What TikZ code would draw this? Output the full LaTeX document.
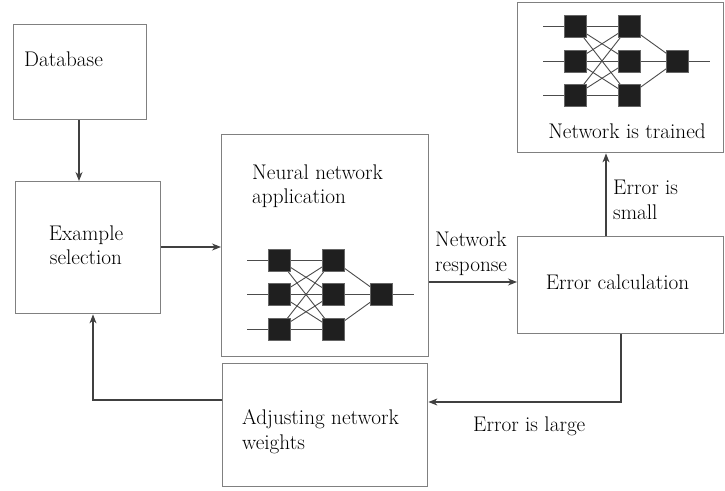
\documentclass[tikz,border=0pt]{standalone}
\usetikzlibrary{arrows.meta}
\begin{document}
\begin{tikzpicture}[x=1pt,y=-1pt,
  box/.style={draw=black!50,line width=1.4pt,fill=white},
  lbl/.style={font=\fontsize{21.2}{24.5}\selectfont,inner sep=0pt,align=left},
  conn/.style={draw=black!75,line width=1.1pt,-{Stealth[length=9pt,width=7pt]}},
  link/.style={draw=black!70,line width=0.9pt},
  neuron/.style={fill=black!88,draw=black!60,line width=0.4pt},
  nnet/.pic={
    \foreach \r in {0,1,2}{
      \draw[link] (-32,{\r*34.5}) -- (0,{\r*34.5});
      \foreach \s in {0,1,2}{\draw[link] (0,{\r*34.5}) -- (54,{\s*34.5});}
      \draw[link] (54,{\r*34.5}) -- (102,34.5);
    }
    \draw[link] (102,34.5) -- (135,34.5);
    \foreach \r in {0,1,2}{
      \fill[neuron] (-11,{\r*34.5-11}) rectangle (11,{\r*34.5+11});
      \fill[neuron] (43,{\r*34.5-11}) rectangle (65,{\r*34.5+11});
    }
    \fill[neuron] (91,23.5) rectangle (113,45.5);
  }]
\useasboundingbox (0,0) rectangle (725,490);
\fill[white] (0,0) rectangle (725,490);

% boxes
\node[box,minimum width=133pt,minimum height=95pt,anchor=north west] (db) at (13,24) {};
\node[box,minimum width=145pt,minimum height=132pt,anchor=north west] (ex) at (15,181) {};
\node[box,minimum width=207pt,minimum height=222pt,anchor=north west] (nn) at (221,134) {};
\node[box,minimum width=205pt,minimum height=123pt,anchor=north west] (adj) at (222,363) {};
\node[box,minimum width=206pt,minimum height=97pt,anchor=north west] (err) at (517,236) {};
\node[box,minimum width=206pt,minimum height=150pt,anchor=north west] (tr) at (517,2) {};

% network glyphs
\pic at (279,260) {nnet};
\pic at (575,26.5) {nnet};

% texts
\node[lbl,anchor=base west] (tdb) at (24,66) {Database};
\node[lbl,align=center] (tex) at (86,245) {Example\\selection};
\node[lbl,anchor=west] (tnn) at (252,186) {Neural network\\application};
\node[lbl,anchor=west] (tresp) at (435,253.5) {Network\\response};
\node[lbl] (terr) at (617.5,282) {Error calculation};
\node[lbl,anchor=base] (ttr) at (627,138) {Network is trained};
\node[lbl,anchor=west] (tsmall) at (613,200) {Error is\\small};
\node[lbl,anchor=base west] (tlarge) at (473,431) {Error is large};
\node[lbl,anchor=west] (tadj) at (242,431.6) {Adjusting network\\weights};

% connectors
\draw[conn] (db.south -| 79,0) -- (ex.north -| 79,0);
\draw[conn] (ex.east |- 0,247) -- (nn.west |- 0,247);
\draw[conn] (nn.east |- 0,282) -- (err.west |- 0,282);
\draw[conn] (err.north -| 606,0) -- (tr.south -| 606,0);
\draw[conn] (err.south -| 621,0) |- (adj.east |- 0,402);
\draw[conn] (adj.west |- 0,400) -| (ex.south -| 93,0);
\end{tikzpicture}
\end{document}
